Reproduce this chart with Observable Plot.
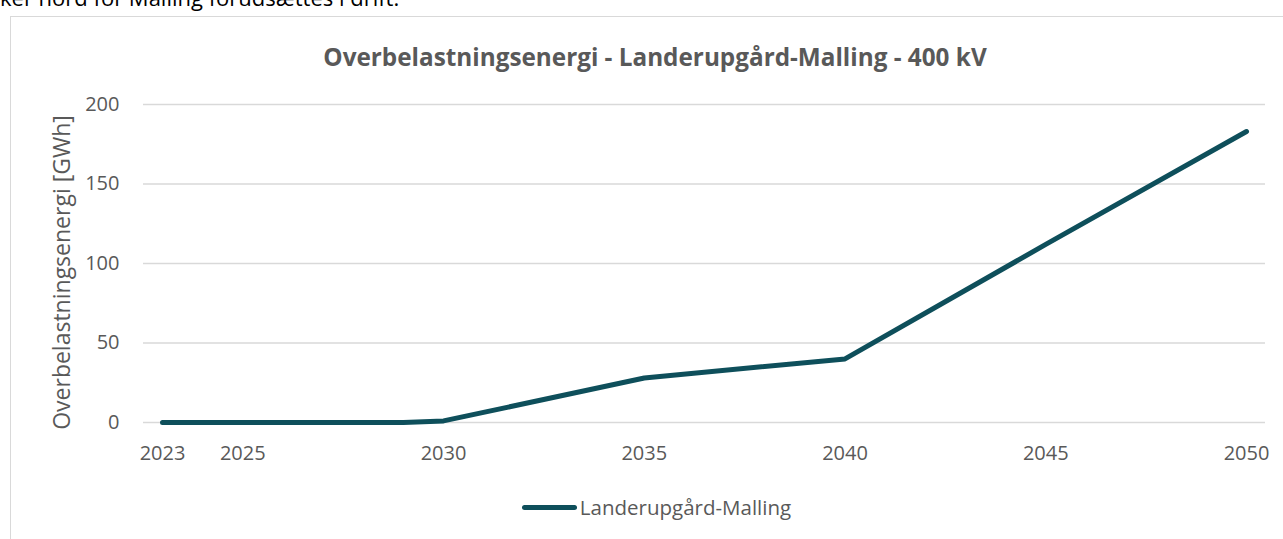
<!DOCTYPE html>
<html>
<head>
<meta charset="utf-8">
<script src="https://cdn.jsdelivr.net/npm/d3@7"></script>
<script src="https://cdn.jsdelivr.net/npm/@observablehq/plot@0.6"></script>
<style>
  html, body { margin: 0; padding: 0; background: #fff; overflow: hidden; }
  body { width: 1283px; height: 539px; position: relative; font-family: "Open Sans", sans-serif; color: #595959; }
  #pretext { position: absolute; left: 0; top: -18px; font-size: 22px; color: #000; white-space: nowrap; }
  #frame { position: absolute; left: 10px; top: 16px; width: 1300px; height: 560px; border: 1.5px solid #d9d9d9; box-sizing: border-box; }
  #title { position: absolute; left: 0; width: 1310px; top: 40px; text-align: center; font-weight: bold; font-size: 24.3px; line-height: 34px; color: #595959; }
  #chart { position: absolute; left: 0; top: 80px; }
  #legend { position: absolute; left: 0; top: 492px; width: 1313px; display: flex; justify-content: center; align-items: center; font-size: 20.5px; line-height: 30px; color: #595959; }
  #legend .sw { width: 55px; height: 5px; border-radius: 3px; background: #0e4f5b; margin-right: 3px; }
</style>
</head>
<body>
<div id="pretext">ker nord for Malling forudsættes i drift.</div>
<div id="frame"></div>
<div id="title">Overbelastningsenergi - Landerupgård-Malling - 400 kV</div>
<div id="chart"></div>
<div id="legend"><span class="sw"></span><span id="legtext"></span></div>
<script>
const seriesName = "Landerupgård-Malling";
const years = [2023, 2025, 2029, 2030, 2035, 2040, 2045, 2050];
const energy = [0, 0, 0, 1, 28, 40, 112, 183];
const xTicks = [2023, 2025, 2030, 2035, 2040, 2045, 2050];
const yTicks = [0, 50, 100, 150, 200];
const yLabel = "Overbelastningsenergi [GWh]";

const data = years.map((y, i) => ({year: y, value: energy[i]}));

const chart = Plot.plot({
  width: 1283,
  height: 400,
  marginLeft: 162,
  marginRight: 37,
  marginTop: 24,
  marginBottom: 58,
  style: {fontFamily: "Open Sans, sans-serif", fontSize: "20px", color: "#595959", background: "transparent", overflow: "visible"},
  x: {domain: [2023, 2050]},
  y: {domain: [0, 200]},
  marks: [
    Plot.ruleY(yTicks, {stroke: "#d9d9d9", strokeWidth: 1.5, insetLeft: -19, insetRight: -19}),
    Plot.axisX(xTicks, {tickSize: 0, tickPadding: 23, tickFormat: d => String(d), fill: "#595959", fontSize: 20, label: null}),
    Plot.axisY(yTicks, {tickSize: 0, tickPadding: 43, fill: "#595959", fontSize: 20, label: null}),
    Plot.text([yLabel], {frameAnchor: "left", textAnchor: "middle", lineAnchor: "middle", rotate: -90, dx: -100, dy: 9, fill: "#595959", fontSize: 23, text: d => d}),
    Plot.line(data, {x: "year", y: "value", stroke: "#0e4f5b", strokeWidth: 5, strokeLinecap: "round", strokeLinejoin: "round"})
  ]
});
document.getElementById("chart").appendChild(chart);
document.getElementById("legtext").textContent = seriesName;
</script>
</body>
</html>
